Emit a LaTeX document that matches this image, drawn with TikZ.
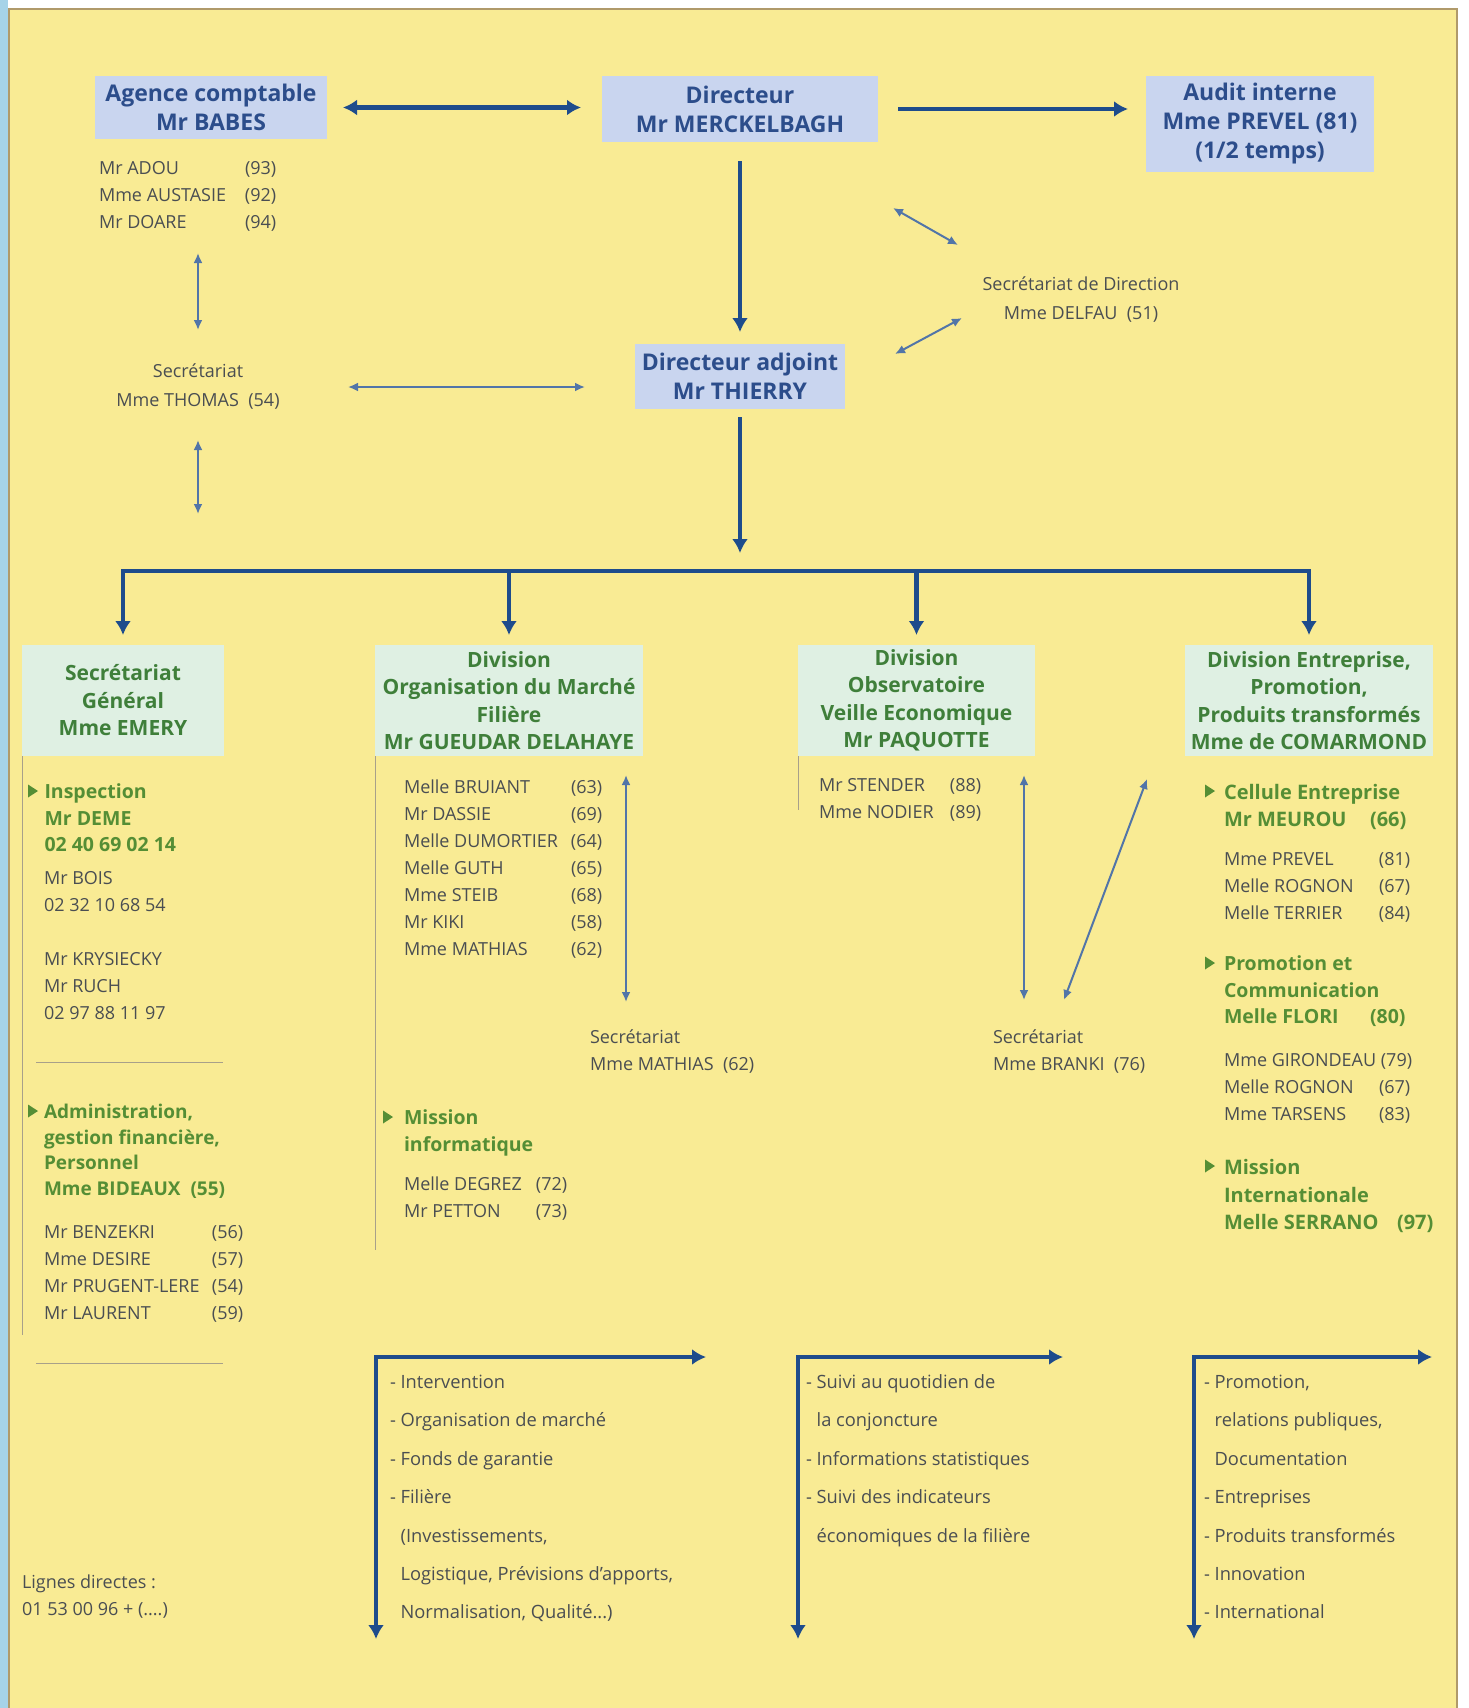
\documentclass[tikz,border=0pt]{standalone}
\usepackage{fontspec}
\setmainfont{Open Sans}
\usetikzlibrary{arrows.meta,calc}
\definecolor{bgyel}{HTML}{F9EB94}
\definecolor{boxblue}{HTML}{C9D5EF}
\definecolor{boxgreen}{HTML}{DFF0E3}
\definecolor{bluetxt}{HTML}{2C4D8B}
\definecolor{greentxt}{HTML}{3F7F3A}
\definecolor{subgreen}{HTML}{558E35}
\definecolor{graytxt}{HTML}{4A4E52}
\definecolor{arrowblue}{HTML}{1E4C8C}
\definecolor{thinblue}{HTML}{5275A8}
\definecolor{framec}{HTML}{B09A6A}
\definecolor{edgeblue}{HTML}{A6D3E8}
\definecolor{colline}{HTML}{A8A08A}
\newcommand\fHead{\fontsize{23}{29}\selectfont\bfseries}
\newcommand\fDiv{\fontsize{21}{27.5}\selectfont\bfseries}
\newcommand\fBody{\fontsize{18}{27}\selectfont}
\newcommand\fSecr{\fontsize{18}{29}\selectfont}
\newcommand\fSub{\fontsize{19.5}{26.5}\selectfont\bfseries}
\newcommand\fBot{\fontsize{18.3}{38.4}\selectfont}
\newcommand\glist[2]{\begin{tabular}{@{}p{#1}@{}l@{}}#2\end{tabular}}
\newcommand\tlist[1]{\begin{tabular}{@{}l@{}}#1\end{tabular}}
\newcommand\tri[2]{\fill[subgreen] (#1,#2-6.5) -- (#1+10,#2) -- (#1,#2+6.5) -- cycle;}
\tikzset{
  bluebox/.style={fill=boxblue, text=bluetxt, font=\fHead, align=center},
  greenbox/.style={fill=boxgreen, text=greentxt, font=\fDiv, align=center},
  graytext/.style={text=graytxt, font=\fBody, anchor=north west},
  subtext/.style={text=subgreen, font=\fSub, anchor=north west},
  bottext/.style={text=graytxt, font=\fBot, anchor=north west},
  bigline/.style={draw=arrowblue, line width=4.5},
  bigarrow/.style={bigline, -{Latex[length=14,width=16]}},
  bigboth/.style={bigline, {Latex[length=14,width=16]}-{Latex[length=14,width=16]}},
  thinboth/.style={draw=thinblue, line width=2, {Latex[length=10,width=9]}-{Latex[length=10,width=9]}},
  colrule/.style={draw=colline, line width=1}
}
\begin{document}
\begin{tikzpicture}[x=1pt,y=-1pt, every node/.style={inner sep=0pt, outer sep=0pt}]
\useasboundingbox (0,0) rectangle (1468,1708);
\fill[white] (0,0) rectangle (1468,1708);
\fill[edgeblue] (0,0) rectangle (8,1708);
\fill[bgyel] (9,9) rectangle (1457,1708);
\draw[framec, line width=1.5] (9,1708) -- (9,9) -- (1457,9) -- (1457,1708);

% top boxes
\node[bluebox, minimum width=232, minimum height=63] (agence) at (211,107.5) {Agence comptable\\Mr BABES};
\node[bluebox, minimum width=276, minimum height=66] (directeur) at (740,109) {Directeur\\Mr MERCKELBAGH};
\node[bluebox, minimum width=228, minimum height=96] (audit) at (1260,124) {Audit interne\\Mme PREVEL (81)\\(1/2 temps)};
\node[bluebox, minimum width=210, minimum height=65] (adjoint) at (740,376.5) {Directeur adjoint\\Mr THIERRY};

\draw[bigboth, shorten <=16, shorten >=21] (agence.east) -- (agence.east -| directeur.west);
\draw[bigarrow, shorten <=20, shorten >=18] (directeur.east) -- (directeur.east -| audit.west);
\draw[bigarrow, shorten <=19, shorten >=12] (directeur.south) -- (adjoint.north);

% agence staff and secretariat
\node[graytext] (agl) at (99,155.4) {\glist{146pt}{Mr ADOU & (93)\\ Mme AUSTASIE & (92)\\ Mr DOARE & (94)}};
\node[text=graytxt, font=\fSecr, anchor=north] (sec1) at (198,357.4) {\begin{tabular}{@{}c@{}}Secrétariat\\Mme THOMAS\ \ (54)\end{tabular}};
\coordinate (sec1low) at (198,514);
\coordinate (s1r) at (348,387);
\draw[thinboth, shorten <=16.6, shorten >=27.4] (agl.south -| sec1.north) -- (sec1.north);
\draw[thinboth, shorten <=24.6] (sec1.south) -- (sec1low);
\draw[thinboth, shorten >=50] (s1r) -- (s1r -| adjoint.west);

% secretariat de direction
\node[text=graytxt, font=\fSecr, align=center] (secdir) at (1081,300) {Secrétariat de Direction\\Mme DELFAU\ \ (51)};
\coordinate (sd1) at (893,208); \coordinate (sd2) at (958,245);
\coordinate (sd3) at (895,354); \coordinate (sd4) at (962,318);
\draw[thinboth] (sd1) -- (sd2);
\draw[thinboth] (sd3) -- (sd4);

% bus
\coordinate (bus0) at (740,571);
\coordinate (b1) at (123,571);
\coordinate (b2) at (509,571);
\coordinate (b3) at (916.5,571);
\coordinate (b4) at (1309,571);
\draw[bigarrow, shorten <=8, shorten >=18] (adjoint.south) -- (bus0);

% division boxes
\node[greenbox, minimum width=202, minimum height=111] (sg) at (123,700.5) {Secrétariat\\Général\\Mme EMERY};
\node[greenbox, minimum width=268, minimum height=111] (org) at (509,700.5) {Division\\Organisation du Marché\\Filière\\Mr GUEUDAR DELAHAYE};
\node[greenbox, minimum width=237, minimum height=111] (obs) at (916.5,700.5) {Division\\Observatoire\\Veille Economique\\Mr PAQUOTTE};
\node[greenbox, minimum width=248, minimum height=111] (ent) at (1309,700.5) {Division Entreprise,\\Promotion,\\Produits transformés\\Mme de COMARMOND};

\draw[bigboth, shorten <=10, shorten >=10] (sg.north) -- (b1) -- (b4) -- (ent.north);
\draw[bigarrow, shorten >=10] (b2) -- (org.north);
\draw[bigarrow, shorten >=10] (b3) -- (obs.north);

% column rules
\draw[colrule] (sg.south west) -- ++(0,579);
\draw[colrule] (org.south west) -- ++(0,494);
\draw[colrule] (obs.south west) -- ++(0,54);
\draw[colrule] (36,1062) -- (223,1062);
\draw[colrule] (36,1363) -- (223,1363);

% Secretariat general content
\tri{28}{791}
\node[subtext] (insp) at (44.5,780.3) {\tlist{Inspection\\Mr DEME\\02 40 69 02 14}};
\node[graytext] (inspl) at (44,865.4) {\tlist{Mr BOIS\\02 32 10 68 54\\ \\Mr KRYSIECKY\\Mr RUCH\\02 97 88 11 97}};
\tri{28}{1111}
\node[subtext, font=\fontsize{19}{25.7}\selectfont\bfseries] (admin) at (44,1100.5) {\tlist{Administration,\\gestion financière,\\Personnel\\Mme BIDEAUX\ \ (55)}};
\node[graytext] (adminl) at (44,1219.4) {\glist{168pt}{Mr BENZEKRI & (56)\\ Mme DESIRE & (57)\\ Mr PRUGENT-LERE & (54)\\ Mr LAURENT & (59)}};

% Organisation content
\node[graytext] (orgl) at (404,774.4) {\glist{167pt}{Melle BRUIANT & (63)\\ Mr DASSIE & (69)\\ Melle DUMORTIER & (64)\\ Melle GUTH & (65)\\ Mme STEIB & (68)\\ Mr KIKI & (58)\\ Mme MATHIAS & (62)}};
\coordinate (oa1) at (626,775); \coordinate (oa2) at (626,1002);
\draw[thinboth] (oa1) -- (oa2);
\node[graytext] (sec2) at (590,1024.4) {\tlist{Secrétariat\\Mme MATHIAS\ \ (62)}};
\tri{383}{1117}
\node[subtext] (misinfo) at (404,1106.3) {\tlist{Mission\\informatique}};
\node[graytext] (degl) at (404,1171.4) {\glist{132pt}{Melle DEGREZ & (72)\\ Mr PETTON & (73)}};

% Observatoire content
\node[graytext] (obsl) at (819,772.4) {\glist{131pt}{Mr STENDER & (88)\\ Mme NODIER & (89)}};
\coordinate (ob1) at (1024,775); \coordinate (ob2) at (1024,1000);
\draw[thinboth] (ob1) -- (ob2);
\coordinate (dg1) at (1147,779); \coordinate (dg2) at (1064,1000);
\draw[thinboth] (dg1) -- (dg2);
\node[graytext] (sec3) at (993,1024.4) {\tlist{Secrétariat\\Mme BRANKI\ \ (76)}};

% Entreprise content
\tri{1205}{791}
\node[subtext, font=\fontsize{20}{27}\selectfont\bfseries] (cell) at (1224,780.3) {\glist{146pt}{\multicolumn{2}{@{}l@{}}{Cellule Entreprise}\\ Mr MEUROU & (66)}};
\node[graytext] (prevl) at (1224,846.4) {\glist{155pt}{Mme PREVEL & (81)\\ Melle ROGNON & (67)\\ Melle TERRIER & (84)}};
\tri{1205}{963}
\node[subtext] (promo) at (1224,952.3) {\glist{146pt}{\multicolumn{2}{@{}l@{}}{Promotion et}\\ \multicolumn{2}{@{}l@{}}{Communication}\\ Melle FLORI & (80)}};
\node[graytext] (girl) at (1224,1047.4) {\glist{155pt}{\multicolumn{2}{@{}l@{}}{Mme GIRONDEAU (79)}\\ Melle ROGNON & (67)\\ Mme TARSENS & (83)}};
\tri{1205}{1166}
\node[subtext, font=\fontsize{20}{27.5}\selectfont\bfseries] (mint) at (1224,1155.3) {\glist{173pt}{\multicolumn{2}{@{}l@{}}{Mission}\\ \multicolumn{2}{@{}l@{}}{Internationale}\\ Melle SERRANO & (97)}};

% bottom brackets
\coordinate (c1) at (376,1357); \coordinate (r1) at (706,1357); \coordinate (d1) at (376,1639);
\coordinate (c2) at (798,1357); \coordinate (r2) at (1063,1357); \coordinate (d2) at (798,1639);
\coordinate (c3) at (1194,1357); \coordinate (r3) at (1432,1357); \coordinate (d3) at (1194,1639);
\draw[bigboth] (r1) -- (c1) -- (d1);
\draw[bigboth] (r2) -- (c2) -- (d2);
\draw[bigboth] (r3) -- (c3) -- (d3);
\node[bottext] (bt1) at (390,1361.6) {\tlist{- Intervention\\- Organisation de marché\\- Fonds de garantie\\- Filière\\\hphantom{- }(Investissements,\\\hphantom{- }Logistique, Prévisions d'apports,\\\hphantom{- }Normalisation, Qualité...)}};
\node[bottext] (bt2) at (806,1361.6) {\tlist{- Suivi au quotidien de\\\hphantom{- }la conjoncture\\- Informations statistiques\\- Suivi des indicateurs\\\hphantom{- }économiques de la filière}};
\node[bottext] (bt3) at (1204,1361.6) {\tlist{- Promotion,\\\hphantom{- }relations publiques,\\\hphantom{- }Documentation\\- Entreprises\\- Produits transformés\\- Innovation\\- International}};

\node[graytext] (lignes) at (22,1569.4) {\tlist{Lignes directes :\\01 53 00 96 + (....)}};
\end{tikzpicture}
\end{document}
